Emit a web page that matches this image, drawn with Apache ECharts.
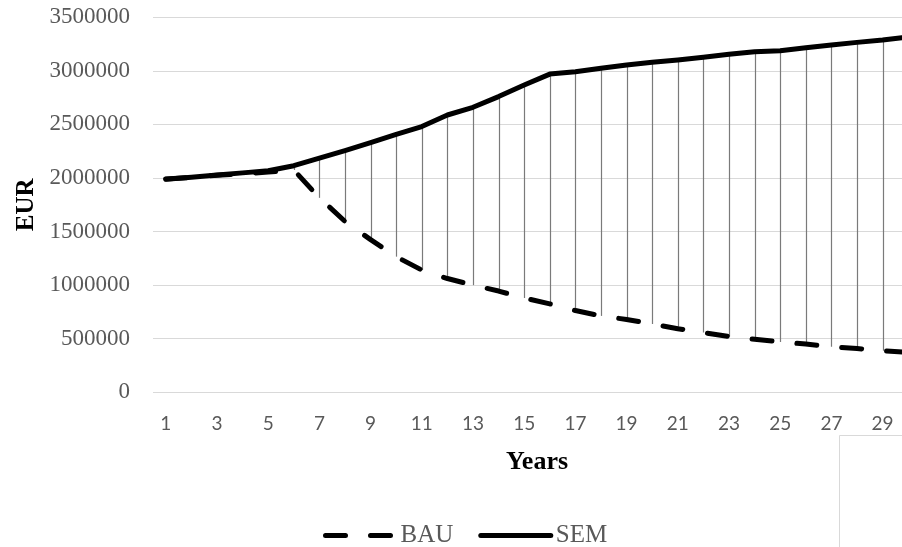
<!DOCTYPE html>
<html>
<head>
<meta charset="utf-8">
<style>
html,body{margin:0;padding:0;background:#fff;overflow:hidden;}
#chart{width:921px;height:547px;}
</style>
<script src="https://cdn.jsdelivr.net/npm/echarts@6/dist/echarts.min.js"></script>
</head>
<body>
<div id="chart"></div>
<script>
const years = ['1','2','3','4','5','6','7','8','9','10','11','12','13','14','15','16','17','18','19','20','21','22','23','24','25','26','27','28','29','30'];
const bau = [1990000, 2005000, 2025000, 2040000, 2055000, 2075000, 1815000, 1595000, 1425000, 1266000, 1141000, 1062000, 1000000, 945000, 880000, 825000, 763000, 713000, 680000, 638000, 593000, 558000, 520000, 495000, 470000, 450000, 424000, 409000, 388000, 372000];
const sem = [1988000, 2008000, 2028000, 2048000, 2068000, 2115000, 2185000, 2255000, 2330000, 2408000, 2480000, 2588000, 2660000, 2760000, 2868000, 2970000, 2992000, 3024000, 3055000, 3080000, 3101000, 3127000, 3155000, 3179000, 3188000, 3216000, 3241000, 3266000, 3288000, 3316000];
const yTicks = {min: 0, max: 3500000, interval: 500000};

const dropData = years.map((y, i) => [i, sem[i], bau[i]]);

const chart = echarts.init(document.getElementById('chart'), null, {renderer: 'canvas'});
chart.setOption({
  animation: false,
  backgroundColor: '#fff',
  grid: {left: 153, top: 17.3, height: 375, width: 768, containLabel: false},
  xAxis: {
    type: 'category',
    data: years,
    boundaryGap: true,
    axisLine: {show: false},
    axisTick: {show: false},
    axisLabel: {interval: 1, color: '#595959', fontFamily: 'Lato', fontSize: 19, margin: 22},
    name: 'Years',
    nameLocation: 'middle',
    nameGap: 57,
    nameTextStyle: {fontFamily: 'Liberation Serif', fontWeight: 'bold', fontSize: 26, color: '#000'}
  },
  yAxis: {
    type: 'value',
    min: yTicks.min, max: yTicks.max, interval: yTicks.interval,
    axisLine: {show: false},
    axisTick: {show: false},
    splitLine: {lineStyle: {color: '#d9d9d9', width: 1}},
    axisLabel: {color: '#595959', fontFamily: 'Liberation Serif', fontSize: 23, margin: 23, formatter: v => String(v)},
    name: 'EUR',
    nameLocation: 'middle',
    nameGap: 109,
    nameTextStyle: {fontFamily: 'Liberation Serif', fontWeight: 'bold', fontSize: 25, color: '#000'}
  },
  legend: {
    left: 318, top: 518,
    itemWidth: 70, itemHeight: 14, itemGap: 25,
    textStyle: {fontFamily: 'Liberation Serif', fontSize: 25, color: '#595959'},
    itemStyle: {opacity: 0},
    lineStyle: {width: 5},
    data: ['BAU', 'SEM']
  },
  graphic: [{
    type: 'rect', silent: true,
    shape: {x: 839.5, y: 435.5, width: 120, height: 150},
    style: {fill: 'none', stroke: '#d9d9d9', lineWidth: 1}
  }],
  series: [
    {
      type: 'custom',
      name: 'drop',
      z: 1,
      renderItem: function (params, api) {
        const p1 = api.coord([api.value(0), api.value(1)]);
        const p2 = api.coord([api.value(0), api.value(2)]);
        return {
          type: 'line',
          shape: {x1: Math.round(p1[0]) + 0.5, y1: p1[1], x2: Math.round(p2[0]) + 0.5, y2: p2[1]},
          style: {stroke: '#7a7a7a', lineWidth: 1.2}
        };
      },
      data: dropData,
      encode: {x: 0, y: [1, 2]}
    },
    {
      type: 'line', name: 'BAU', data: bau, z: 3,
      symbol: 'none', showSymbol: false,
      lineStyle: {color: '#000', width: 5, type: [20, 25], cap: 'round', join: 'round'},
      itemStyle: {color: '#000'}
    },
    {
      type: 'line', name: 'SEM', data: sem, z: 4,
      symbol: 'none', showSymbol: false,
      lineStyle: {color: '#000', width: 5, cap: 'round', join: 'round'},
      itemStyle: {color: '#000'}
    }
  ]
});
</script>
</body>
</html>
